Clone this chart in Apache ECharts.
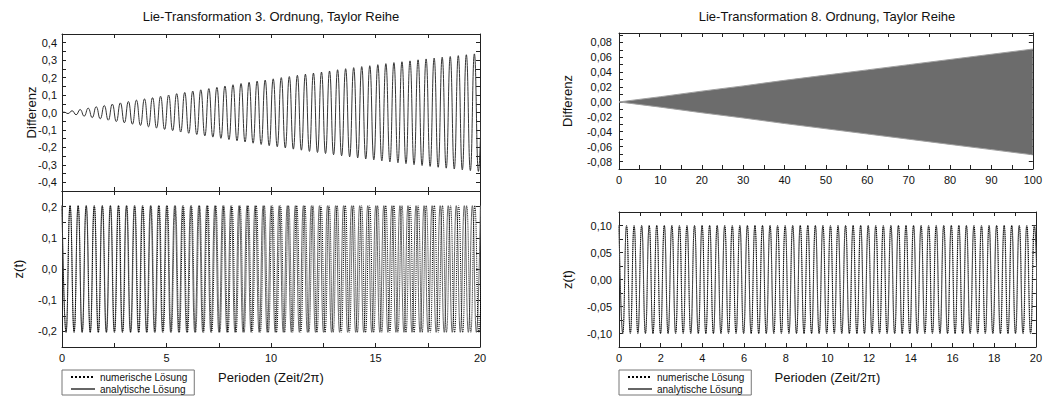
<!DOCTYPE html>
<html><head><meta charset="utf-8">
<script src="https://cdn.jsdelivr.net/npm/echarts@6/dist/echarts.min.js"></script>
<style>html,body{margin:0;padding:0;background:#fff}#c{width:1045px;height:396px}</style>
</head><body><div id="c"></div>
<script>
const FONT = "'Liberation Sans', Arial, Helvetica, sans-serif";

// ---------- DATA ----------
const titles = ['Lie-Transformation 3. Ordnung, Taylor Reihe', 'Lie-Transformation 8. Ordnung, Taylor Reihe'];
const seriesNames = ['numerische Lösung', 'analytische Lösung'];

// Left panels: extrema of the oscillations, sampled every half period (time in periods)
const leftAnaStep = 0.1925;
const leftAnaExtrema = [
0.203,-0.203,0.203,-0.203,0.203,-0.203,0.203,-0.203,0.203,-0.203,
0.203,-0.203,0.203,-0.203,0.203,-0.203,0.203,-0.203,0.203,-0.203,
0.203,-0.203,0.203,-0.203,0.203,-0.203,0.203,-0.203,0.203,-0.203,
0.203,-0.203,0.203,-0.203,0.203,-0.203,0.203,-0.203,0.203,-0.203,
0.203,-0.203,0.203,-0.203,0.203,-0.203,0.203,-0.203,0.203,-0.203,
0.203,-0.203,0.203,-0.203,0.203,-0.203,0.203,-0.203,0.203,-0.203,
0.203,-0.203,0.203,-0.203,0.203,-0.203,0.203,-0.203,0.203,-0.203,
0.203,-0.203,0.203,-0.203,0.203,-0.203,0.203,-0.203,0.203,-0.203,
0.203,-0.203,0.203,-0.203,0.203,-0.203,0.203,-0.203,0.203,-0.203,
0.203,-0.203,0.203,-0.203,0.203,-0.203,0.203,-0.203,0.203,-0.203,
0.203,-0.203,0.203,-0.203,0.203];
const leftNumStep = 0.19365;
const leftNumExtrema = [
0.203,-0.203,0.203,-0.203,0.203,-0.203,0.203,-0.203,0.203,-0.203,
0.203,-0.203,0.203,-0.203,0.203,-0.203,0.203,-0.203,0.203,-0.203,
0.203,-0.203,0.203,-0.203,0.203,-0.203,0.203,-0.203,0.203,-0.203,
0.203,-0.203,0.203,-0.203,0.203,-0.203,0.203,-0.203,0.203,-0.203,
0.203,-0.203,0.203,-0.203,0.203,-0.203,0.203,-0.203,0.203,-0.203,
0.203,-0.203,0.203,-0.203,0.203,-0.203,0.203,-0.203,0.203,-0.203,
0.203,-0.203,0.203,-0.203,0.203,-0.203,0.203,-0.203,0.203,-0.203,
0.203,-0.203,0.203,-0.203,0.203,-0.203,0.203,-0.203,0.203,-0.203,
0.203,-0.203,0.203,-0.203,0.203,-0.203,0.203,-0.203,0.203,-0.203,
0.203,-0.203,0.203,-0.203,0.203,-0.203,0.203,-0.203,0.203,-0.203,
0.203,-0.203,0.203,-0.203,0.203];
const leftDiffStart = 0.09625;
const leftDiffStep = 0.1925;
const leftDiffExtrema = [
0.002,-0.006,0.010,-0.013,0.017,-0.021,0.025,-0.029,0.033,-0.036,
0.040,-0.044,0.048,-0.052,0.055,-0.059,0.063,-0.067,0.071,-0.074,
0.078,-0.082,0.085,-0.089,0.093,-0.097,0.100,-0.104,0.108,-0.112,
0.115,-0.119,0.123,-0.126,0.130,-0.134,0.137,-0.141,0.144,-0.148,
0.152,-0.155,0.159,-0.162,0.166,-0.169,0.173,-0.176,0.180,-0.183,
0.186,-0.190,0.193,-0.196,0.200,-0.203,0.206,-0.210,0.213,-0.216,
0.220,-0.223,0.226,-0.229,0.232,-0.235,0.238,-0.242,0.245,-0.248,
0.251,-0.254,0.257,-0.260,0.263,-0.266,0.268,-0.271,0.274,-0.277,
0.280,-0.283,0.286,-0.288,0.291,-0.293,0.296,-0.299,0.302,-0.304,
0.307,-0.309,0.312,-0.314,0.317,-0.319,0.321,-0.324,0.326,-0.329,
0.331,-0.333,0.336,-0.338,0.340];

// Right panels
const rightAnaStep = 0.1811;
const rightAnaExtrema = [
0.1,-0.1,0.1,-0.1,0.1,-0.1,0.1,-0.1,0.1,-0.1,
0.1,-0.1,0.1,-0.1,0.1,-0.1,0.1,-0.1,0.1,-0.1,
0.1,-0.1,0.1,-0.1,0.1,-0.1,0.1,-0.1,0.1,-0.1,
0.1,-0.1,0.1,-0.1,0.1,-0.1,0.1,-0.1,0.1,-0.1,
0.1,-0.1,0.1,-0.1,0.1,-0.1,0.1,-0.1,0.1,-0.1,
0.1,-0.1,0.1,-0.1,0.1,-0.1,0.1,-0.1,0.1,-0.1,
0.1,-0.1,0.1,-0.1,0.1,-0.1,0.1,-0.1,0.1,-0.1,
0.1,-0.1,0.1,-0.1,0.1,-0.1,0.1,-0.1,0.1,-0.1,
0.1,-0.1,0.1,-0.1,0.1,-0.1,0.1,-0.1,0.1,-0.1,
0.1,-0.1,0.1,-0.1,0.1,-0.1,0.1,-0.1,0.1,-0.1,
0.1,-0.1,0.1,-0.1,0.1,-0.1,0.1,-0.1,0.1,-0.1,
0.1,-0.1];
const rightNumStep = 0.18121;
const rightNumExtrema = [
0.1,-0.1,0.1,-0.1,0.1,-0.1,0.1,-0.1,0.1,-0.1,
0.1,-0.1,0.1,-0.1,0.1,-0.1,0.1,-0.1,0.1,-0.1,
0.1,-0.1,0.1,-0.1,0.1,-0.1,0.1,-0.1,0.1,-0.1,
0.1,-0.1,0.1,-0.1,0.1,-0.1,0.1,-0.1,0.1,-0.1,
0.1,-0.1,0.1,-0.1,0.1,-0.1,0.1,-0.1,0.1,-0.1,
0.1,-0.1,0.1,-0.1,0.1,-0.1,0.1,-0.1,0.1,-0.1,
0.1,-0.1,0.1,-0.1,0.1,-0.1,0.1,-0.1,0.1,-0.1,
0.1,-0.1,0.1,-0.1,0.1,-0.1,0.1,-0.1,0.1,-0.1,
0.1,-0.1,0.1,-0.1,0.1,-0.1,0.1,-0.1,0.1,-0.1,
0.1,-0.1,0.1,-0.1,0.1,-0.1,0.1,-0.1,0.1,-0.1,
0.1,-0.1,0.1,-0.1,0.1,-0.1,0.1,-0.1,0.1,-0.1,
0.1,-0.1];
// envelope of the (very dense) difference oscillation, 8th order, over 100 periods
const rightEnvT = [0, 10, 20, 30, 40, 50, 60, 70, 80, 90, 100];
const rightEnvUpper = [0, 0.007, 0.0145, 0.0215, 0.029, 0.036, 0.043, 0.050, 0.057, 0.064, 0.071];
const rightEnvLower = [0, -0.007, -0.0145, -0.0215, -0.029, -0.036, -0.043, -0.050, -0.057, -0.064, -0.071];

// ---------- build ----------
function seq(start, step, vals) { return vals.map((v, i) => [+(start + i * step).toFixed(5), v]); }
function isMult(v, e) { return Math.abs(v / e - Math.round(v / e)) < 1e-6; }
function fmt(v, dec) { if (Math.abs(v) < 1e-9) v = 0; return v.toFixed(dec).replace('.', ','); }

const AX = '#222';
const grids = [
  { left: 62, top: 34, width: 418, height: 157 },
  { left: 62, top: 191, width: 418, height: 156 },
  { left: 619, top: 33, width: 417, height: 136 },
  { left: 619, top: 212, width: 417, height: 135 }
];
function xAx(g, pos, max, interval, every, labels, name) {
  return {
    type: 'value', gridIndex: g, position: pos, min: 0, max: max, interval: interval,
    axisLine: { show: true, onZero: false, lineStyle: { color: AX, width: 1 } },
    axisTick: { show: true, inside: true, length: 4, lineStyle: { color: AX } },
    splitLine: { show: false },
    axisLabel: { show: labels, margin: 5, fontSize: 11, fontFamily: FONT, color: '#111',
      formatter: v => isMult(v, every) ? String(Math.round(v)) : '' },
    name: name || '', nameLocation: 'middle', nameGap: 24, nameMoveOverlap: false,
    nameTextStyle: { fontSize: 13, fontFamily: FONT, color: '#111' }
  };
}
function yAx(g, pos, min, max, interval, every, dec, labels, name, gap, margin) {
  return {
    type: 'value', gridIndex: g, position: pos, min: min, max: max, interval: interval,
    axisLine: { show: true, onZero: false, lineStyle: { color: AX, width: 1 } },
    axisTick: { show: true, inside: true, length: 4, lineStyle: { color: AX } },
    splitLine: { show: false },
    axisLabel: { show: labels, margin: margin || 5, fontSize: 11, fontFamily: FONT, color: '#111',
      formatter: v => isMult(v, every) ? fmt(v, dec) : '' },
    name: name || '', nameLocation: 'middle', nameGap: gap || 20, nameMoveOverlap: false,
    nameTextStyle: { fontSize: 13, fontFamily: FONT, color: '#111' }
  };
}

const xAxis = [
  xAx(0, 'bottom', 20, 2.5, 5, false), xAx(0, 'top', 20, 2.5, 5, false),
  xAx(1, 'bottom', 20, 2.5, 5, true, 'Perioden (Zeit/2\u03c0)'), xAx(1, 'top', 20, 2.5, 5, false),
  xAx(2, 'bottom', 100, 5, 10, true), xAx(2, 'top', 100, 5, 10, false),
  xAx(3, 'bottom', 20, 1, 2, true, 'Perioden (Zeit/2\u03c0)'), xAx(3, 'top', 20, 1, 2, false)
];
const yAxis = [
  yAx(0, 'left', -0.45, 0.45, 0.05, 0.1, 1, true, 'Differenz', 24, 5), yAx(0, 'right', -0.45, 0.45, 0.05, 0.1, 1, false),
  yAx(1, 'left', -0.25, 0.25, 0.05, 0.1, 1, true, 'z(t)', 37, 5), yAx(1, 'right', -0.25, 0.25, 0.05, 0.1, 1, false),
  yAx(2, 'left', -0.09, 0.0925, 0.01, 0.02, 2, true, 'Differenz', 45, 7), yAx(2, 'right', -0.09, 0.0925, 0.01, 0.02, 2, false),
  yAx(3, 'left', -0.125, 0.125, 0.025, 0.05, 2, true, 'z(t)', 45, 7), yAx(3, 'right', -0.125, 0.125, 0.025, 0.05, 2, false)
];

function line(name, xi, yi, data, color, type, z) {
  return { type: 'line', name: name, xAxisIndex: xi, yAxisIndex: yi, data: data, symbol: 'none', showSymbol: false,
    smooth: true, silent: true, z: z, sampling: null,
    lineStyle: { color: color, width: 1, type: type }, itemStyle: { color: color } };
}

const series = [
  line('Differenz 3', 0, 0, [[0, 0]].concat(seq(leftDiffStart, leftDiffStep, leftDiffExtrema)), '#333', 'solid', 2),
  line(seriesNames[1], 2, 2, seq(0, leftAnaStep, leftAnaExtrema), '#666', 'solid', 2),
  line(seriesNames[0], 2, 2, seq(0, leftNumStep, leftNumExtrema), '#000', 'dotted', 3),
  Object.assign(line('Differenz 8 oben', 4, 4, rightEnvT.map((t, i) => [t, rightEnvUpper[i]]), '#a0a0a0', 'solid', 2),
    { smooth: false, areaStyle: { color: '#6c6c6c', opacity: 1 } }),
  Object.assign(line('Differenz 8 unten', 4, 4, rightEnvT.map((t, i) => [t, rightEnvLower[i]]), '#a0a0a0', 'solid', 2),
    { smooth: false, areaStyle: { color: '#6c6c6c', opacity: 1 } }),
  line(seriesNames[1], 6, 6, seq(0, rightAnaStep, rightAnaExtrema), '#888', 'solid', 2),
  line(seriesNames[0], 6, 6, seq(0, rightNumStep, rightNumExtrema), '#000', 'dotted', 3)
];

function legend(left) {
  return { data: seriesNames, orient: 'vertical', left: left, top: 370, selectedMode: false,
    itemWidth: 24, itemHeight: 9, itemGap: 2, padding: [2, 7, 1, 8],
    itemStyle: { opacity: 0, borderWidth: 0 },
    borderColor: '#777', borderWidth: 1, borderRadius: 0,
    textStyle: { fontSize: 10, fontFamily: FONT, color: '#111' } };
}

const chart = echarts.init(document.getElementById('c'), null, { renderer: 'svg' });
chart.setOption({
  animation: false,
  backgroundColor: '#fff',
  grid: grids,
  xAxis: xAxis,
  yAxis: yAxis,
  series: series,
  legend: [legend(62), legend(619)],
  graphic: [
    { type: 'text', x: 271, y: 16, style: { text: titles[0], align: 'center', verticalAlign: 'middle', fontSize: 13, fontFamily: FONT, fill: '#111' } },
    { type: 'text', x: 827, y: 16, style: { text: titles[1], align: 'center', verticalAlign: 'middle', fontSize: 13, fontFamily: FONT, fill: '#111' } }
  ]
});
</script>
</body></html>
